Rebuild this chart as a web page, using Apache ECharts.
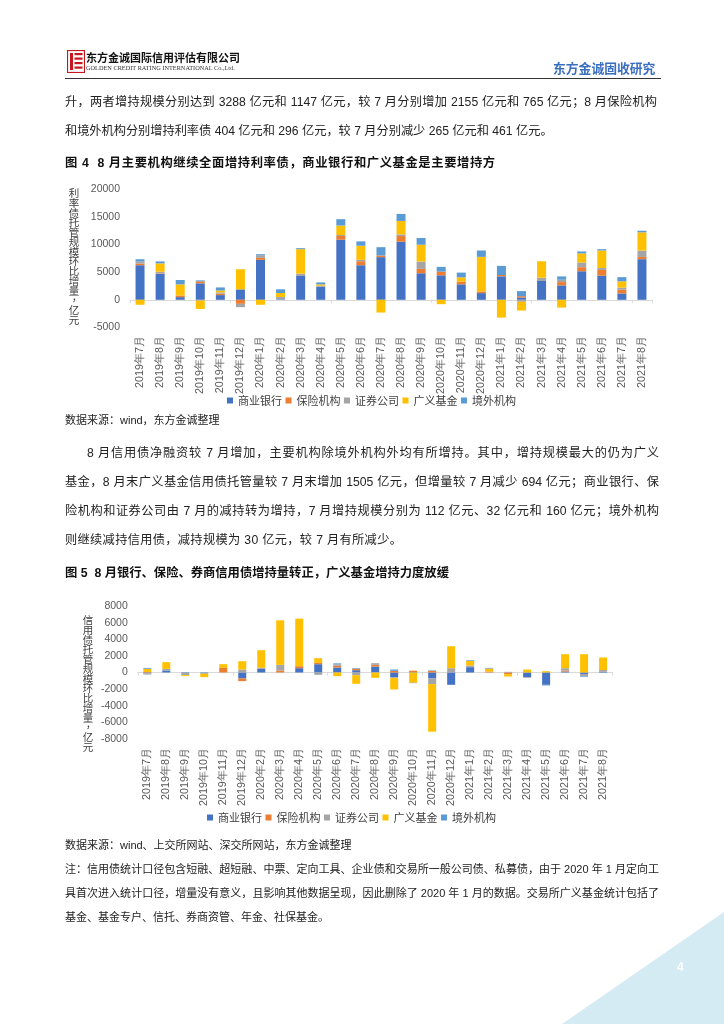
<!DOCTYPE html>
<html><head><meta charset="utf-8">
<script src="https://cdn.jsdelivr.net/npm/echarts@6/dist/echarts.min.js"></script>
<style>
html,body{margin:0;padding:0;background:#fff;}
#page{position:relative;width:724px;height:1024px;overflow:hidden;background:#fff;font-family:"Liberation Sans","Noto Sans CJK SC",sans-serif;}
#chart{position:absolute;left:0;top:0;width:724px;height:1024px;z-index:1;}
.t{position:absolute;white-space:nowrap;z-index:2;color:#222;}
.p{font-size:12.2px;line-height:16px;color:#222;}
.j{text-align:justify;text-align-last:justify;}
.b{font-weight:bold;font-size:12.3px;line-height:16px;color:#111;}
.s{font-size:11px;line-height:14px;color:#222;}
.vn{position:absolute;z-index:2;font-size:10.5px;line-height:9.75px;color:#404040;text-align:center;width:14px;font-family:"Noto Sans CJK SC",sans-serif;}
</style></head>
<body>
<div id="page">
  <div id="chart"></div>
  <!-- header -->
  <svg class="t" style="left:67px;top:50px" width="18" height="23" viewBox="0 0 18 23">
    <rect x="0.5" y="0.5" width="17" height="22" fill="none" stroke="#c8161d" stroke-width="1.2"/>
    <rect x="3" y="3" width="3" height="17" fill="#c8161d"/>
    <rect x="7.5" y="3" width="8" height="2.2" fill="#c8161d"/>
    <rect x="7.5" y="7.5" width="8" height="2.2" fill="#c8161d"/>
    <rect x="7.5" y="12" width="8" height="2.2" fill="#c8161d"/>
    <rect x="7.5" y="16.5" width="8" height="2.2" fill="#c8161d"/>
  </svg>
  <div class="t" style="left:86px;top:50px;font-size:11px;line-height:14px;font-weight:bold;color:#111;font-family:'Noto Sans CJK SC',sans-serif;">东方金诚国际信用评估有限公司</div>
  <div class="t" style="left:86px;top:64px;font-size:6.3px;line-height:8px;color:#333;font-family:'Liberation Serif',serif;">GOLDEN CREDIT RATING INTERNATIONAL Co.,Ltd.</div>
  <div class="t" style="left:553px;top:60px;font-size:12.8px;line-height:16px;font-weight:bold;color:#3a6fc0;font-family:'Noto Sans CJK SC',sans-serif;">东方金诚固收研究</div>
  <div class="t" style="left:65px;top:78px;width:596px;height:0;border-top:1.5px solid #333;"></div>

  <div class="t p j" style="left:65px;top:94px;width:592px;">升，两者增持规模分别达到 3288 亿元和 1147 亿元，较 7 月分别增加 2155 亿元和 765 亿元；8 月保险机构</div>
  <div class="t p" style="left:65px;top:123px;letter-spacing:0px;">和境外机构分别增持利率债 404 亿元和 296 亿元，较 7 月分别减少 265 亿元和 461 亿元。</div>

  <div class="t b" style="left:65px;top:155px;letter-spacing:0.6px;">图 4&nbsp;&nbsp;8 月主要机构继续全面增持利率债，商业银行和广义基金是主要增持方</div>

  <div class="t s" style="left:65px;top:413px;">数据来源：wind，东方金诚整理</div>

  <div class="t p j" style="left:87px;top:445px;width:572px;">8 月信用债净融资较 7 月增加，主要机构除境外机构外均有所增持。其中，增持规模最大的仍为广义</div>
  <div class="t p j" style="left:65px;top:474px;width:594px;">基金，8 月末广义基金信用债托管量较 7 月末增加 1505 亿元，但增量较 7 月减少 694 亿元；商业银行、保</div>
  <div class="t p j" style="left:65px;top:503px;width:594px;">险机构和证券公司由 7 月的减持转为增持，7 月增持规模分别为 112 亿元、32 亿元和 160 亿元；境外机构</div>
  <div class="t p" style="left:65px;top:532px;letter-spacing:0.35px;">则继续减持信用债，减持规模为 30 亿元，较 7 月有所减少。</div>

  <div class="t b" style="left:65px;top:565px;">图 5&nbsp;&nbsp;8 月银行、保险、券商信用债增持量转正，广义基金增持力度放缓</div>

  <div class="t s" style="left:65px;top:838px;">数据来源：wind、上交所网站、深交所网站，东方金诚整理</div>
  <div class="t s j" style="left:65px;top:862px;width:594px;">注：信用债统计口径包含短融、超短融、中票、定向工具、企业债和交易所一般公司债、私募债，由于 2020 年 1 月定向工</div>
  <div class="t s j" style="left:65px;top:886px;width:594px;">具首次进入统计口径，增量没有意义，且影响其他数据呈现，因此删除了 2020 年 1 月的数据。交易所广义基金统计包括了</div>
  <div class="t s" style="left:65px;top:910px;">基金、基金专户、信托、券商资管、年金、社保基金。</div>

  <svg class="t" style="left:0;top:0;z-index:0" width="724" height="1024">
    <polygon points="562,1024 724,1024 724,912" fill="#d5ebf3"/>
  </svg>
  <div class="t" style="left:677px;top:959px;font-size:12px;line-height:16px;font-weight:bold;color:#fff;z-index:3;">4</div>
</div>
<script>
// ---------- data ----------
const seriesNames = ['商业银行','保险机构','证券公司','广义基金','境外机构'];
const months1 = ['2019年7月','2019年8月','2019年9月','2019年10月','2019年11月','2019年12月','2020年1月','2020年2月','2020年3月','2020年4月','2020年5月','2020年6月','2020年7月','2020年8月','2020年9月','2020年10月','2020年11月','2020年12月','2021年1月','2021年2月','2021年3月','2021年4月','2021年5月','2021年6月','2021年7月','2021年8月'];
const bank1    = [6240, 4670, 480, 2970, 850, 1880, 7210, 100, 4300, 2360, 10850, 6240, 7700, 10480, 4790, 4420, 2790, 1210, 4240, 420, 3390, 2600, 5150, 4360, 1150, 7330];
const insur1   = [300, 100, 300, 360, 240, -730, 360, 0, 0, 0, 670, 730, 300, 1030, 790, 670, 480, 300, 240, 240, 0, 600, 730, 1030, 669, 404];
const sec1     = [420, 300, 0, -150, 240, -600, 480, 400, 420, 180, 180, 240, 0, 300, 1330, 0, 0, 0, 0, -360, 600, 420, 850, 360, 382, 1147];
const fund1    = [-900, 1500, 2000, -1500, 360, 3640, -900, 730, 4420, 240, 1700, 2550, -2300, 2420, 3030, -790, 790, 6240, -3210, -1580, 2970, -1400, 1640, 3150, 1133, 3288];
const foreign1 = [360, 360, 790, 180, 540, 0, 180, 670, 180, 360, 1150, 790, 1500, 1270, 1210, 850, 850, 1150, 1640, 910, 0, 600, 360, 240, 757, 296];

const months2 = ['2019年7月','2019年8月','2019年9月','2019年10月','2019年11月','2019年12月','2020年2月','2020年3月','2020年4月','2020年5月','2020年6月','2020年7月','2020年8月','2020年9月','2020年10月','2020年11月','2020年12月','2021年1月','2021年2月','2021年3月','2021年4月','2021年5月','2021年6月','2021年7月','2021年8月'];
const bank2    = [-100, 240, 0, 0, 0, -720, 440, 0, 520, 1000, 600, 280, 720, -560, 60, -720, -1480, 640, 0, 0, -560, -1480, 120, -240, 112];
const insur2   = [50, 0, 0, 0, 560, -320, 0, 240, 240, 160, 200, 160, 200, 200, 160, 200, 0, 0, 120, -200, 0, 0, 120, -40, 32];
const sec2     = [-150, 200, -320, -160, 0, 360, 120, 680, 0, -280, 200, -320, 200, -120, 0, -680, 520, 200, 0, 80, -80, 0, 280, -160, 160];
const fund2    = [400, 800, -120, -400, 440, 1000, 2120, 5360, 5720, 560, -440, -1040, -640, -1360, -1240, -5720, 2640, 560, 360, -280, 360, 160, 1680, 2199, 1505];
const foreign2 = [100, 0, 50, 50, 0, 0, 0, 0, 0, 0, 100, 80, 0, 160, -40, 60, 0, 80, 80, 0, 0, -80, 0, -80, -30];

const yTicks1 = {min: -5000, max: 20000, interval: 5000};
const yTicks2 = {min: -8000, max: 8000, interval: 2000};
const yName1 = '利率债托管规模环比增量，亿元';
const yName2 = '信用债托管规模环比增量，亿元';

// ---------- vertical axis names ----------
function vname(text, left, top){
  const d = document.createElement('div');
  d.className = 'vn';
  d.style.left = left + 'px'; d.style.top = top + 'px';
  d.innerHTML = text.split('').map(c => c === '，' ? '<span style="display:inline-block;transform:translate(3px,-3px)">，</span>' : c).join('<br>');
  document.getElementById('page').appendChild(d);
}
vname(yName1, 67, 188);
vname(yName2, 81, 615);

// ---------- chart ----------
const colors = ['#4472C4','#ED7D31','#A5A5A5','#FFC000','#5B9BD5'];
const d1 = [bank1, insur1, sec1, fund1, foreign1];
const d2 = [bank2, insur2, sec2, fund2, foreign2];
const chart = echarts.init(document.getElementById('chart'), null, {width: 724, height: 1024});
const lblStyle = {color: '#595959', fontSize: 10.5, fontFamily: 'Liberation Sans', formatter: v => String(v)};
function xAxes(gridIndex, data, margin){
  return [
    {type:'category', gridIndex, data, position:'bottom', axisLine:{show:false, onZero:false}, axisTick:{show:false},
     axisLabel:{rotate:90, interval:0, margin, color:'#595959', fontSize:10.8, fontFamily:'Liberation Sans'}},
    {type:'category', gridIndex, data, position:'top', axisLine:{show:true, onZero:true, lineStyle:{color:'#d9d9d9', width:1}},
     axisTick:{show:true, inside:true, length:3, lineStyle:{color:'#d9d9d9'}}, axisLabel:{show:false}}
  ];
}
const series = [];
seriesNames.forEach((n,i)=>{
  series.push({name:n, type:'bar', stack:'c1', xAxisIndex:0, yAxisIndex:0, data:d1[i], barWidth:9,
    itemStyle:{color:colors[i]}});
});
seriesNames.forEach((n,i)=>{
  series.push({name:n, type:'bar', stack:'c2', xAxisIndex:2, yAxisIndex:1, data:d2[i], barWidth:8,
    itemStyle:{color:colors[i]}});
});
const legendBase = {data:seriesNames, icon:'rect', itemWidth:6, itemHeight:6, itemGap:3.5, padding:0, selectedMode:false,
  textStyle:{color:'#404040', fontSize:11, fontFamily:'Noto Sans CJK SC'}};
chart.setOption({
  animation:false,
  grid:[
    {left:130, top:189, width:522, height:138.5},
    {left:137.8, top:606, width:474.8, height:133}
  ],
  xAxis:[...xAxes(0, months1, 8.5), ...xAxes(1, months2, 9)],
  yAxis:[
    {type:'value', gridIndex:0, ...yTicks1, axisLine:{show:false}, axisTick:{show:false}, splitLine:{show:false}, axisLabel:{...lblStyle, margin:10}},
    {type:'value', gridIndex:1, ...yTicks2, axisLine:{show:false}, axisTick:{show:false}, splitLine:{show:false}, axisLabel:{...lblStyle, margin:10}}
  ],
  legend:[
    {...legendBase, left:227, top:395},
    {...legendBase, left:207, top:812}
  ],
  series
});
</script>
</body></html>
